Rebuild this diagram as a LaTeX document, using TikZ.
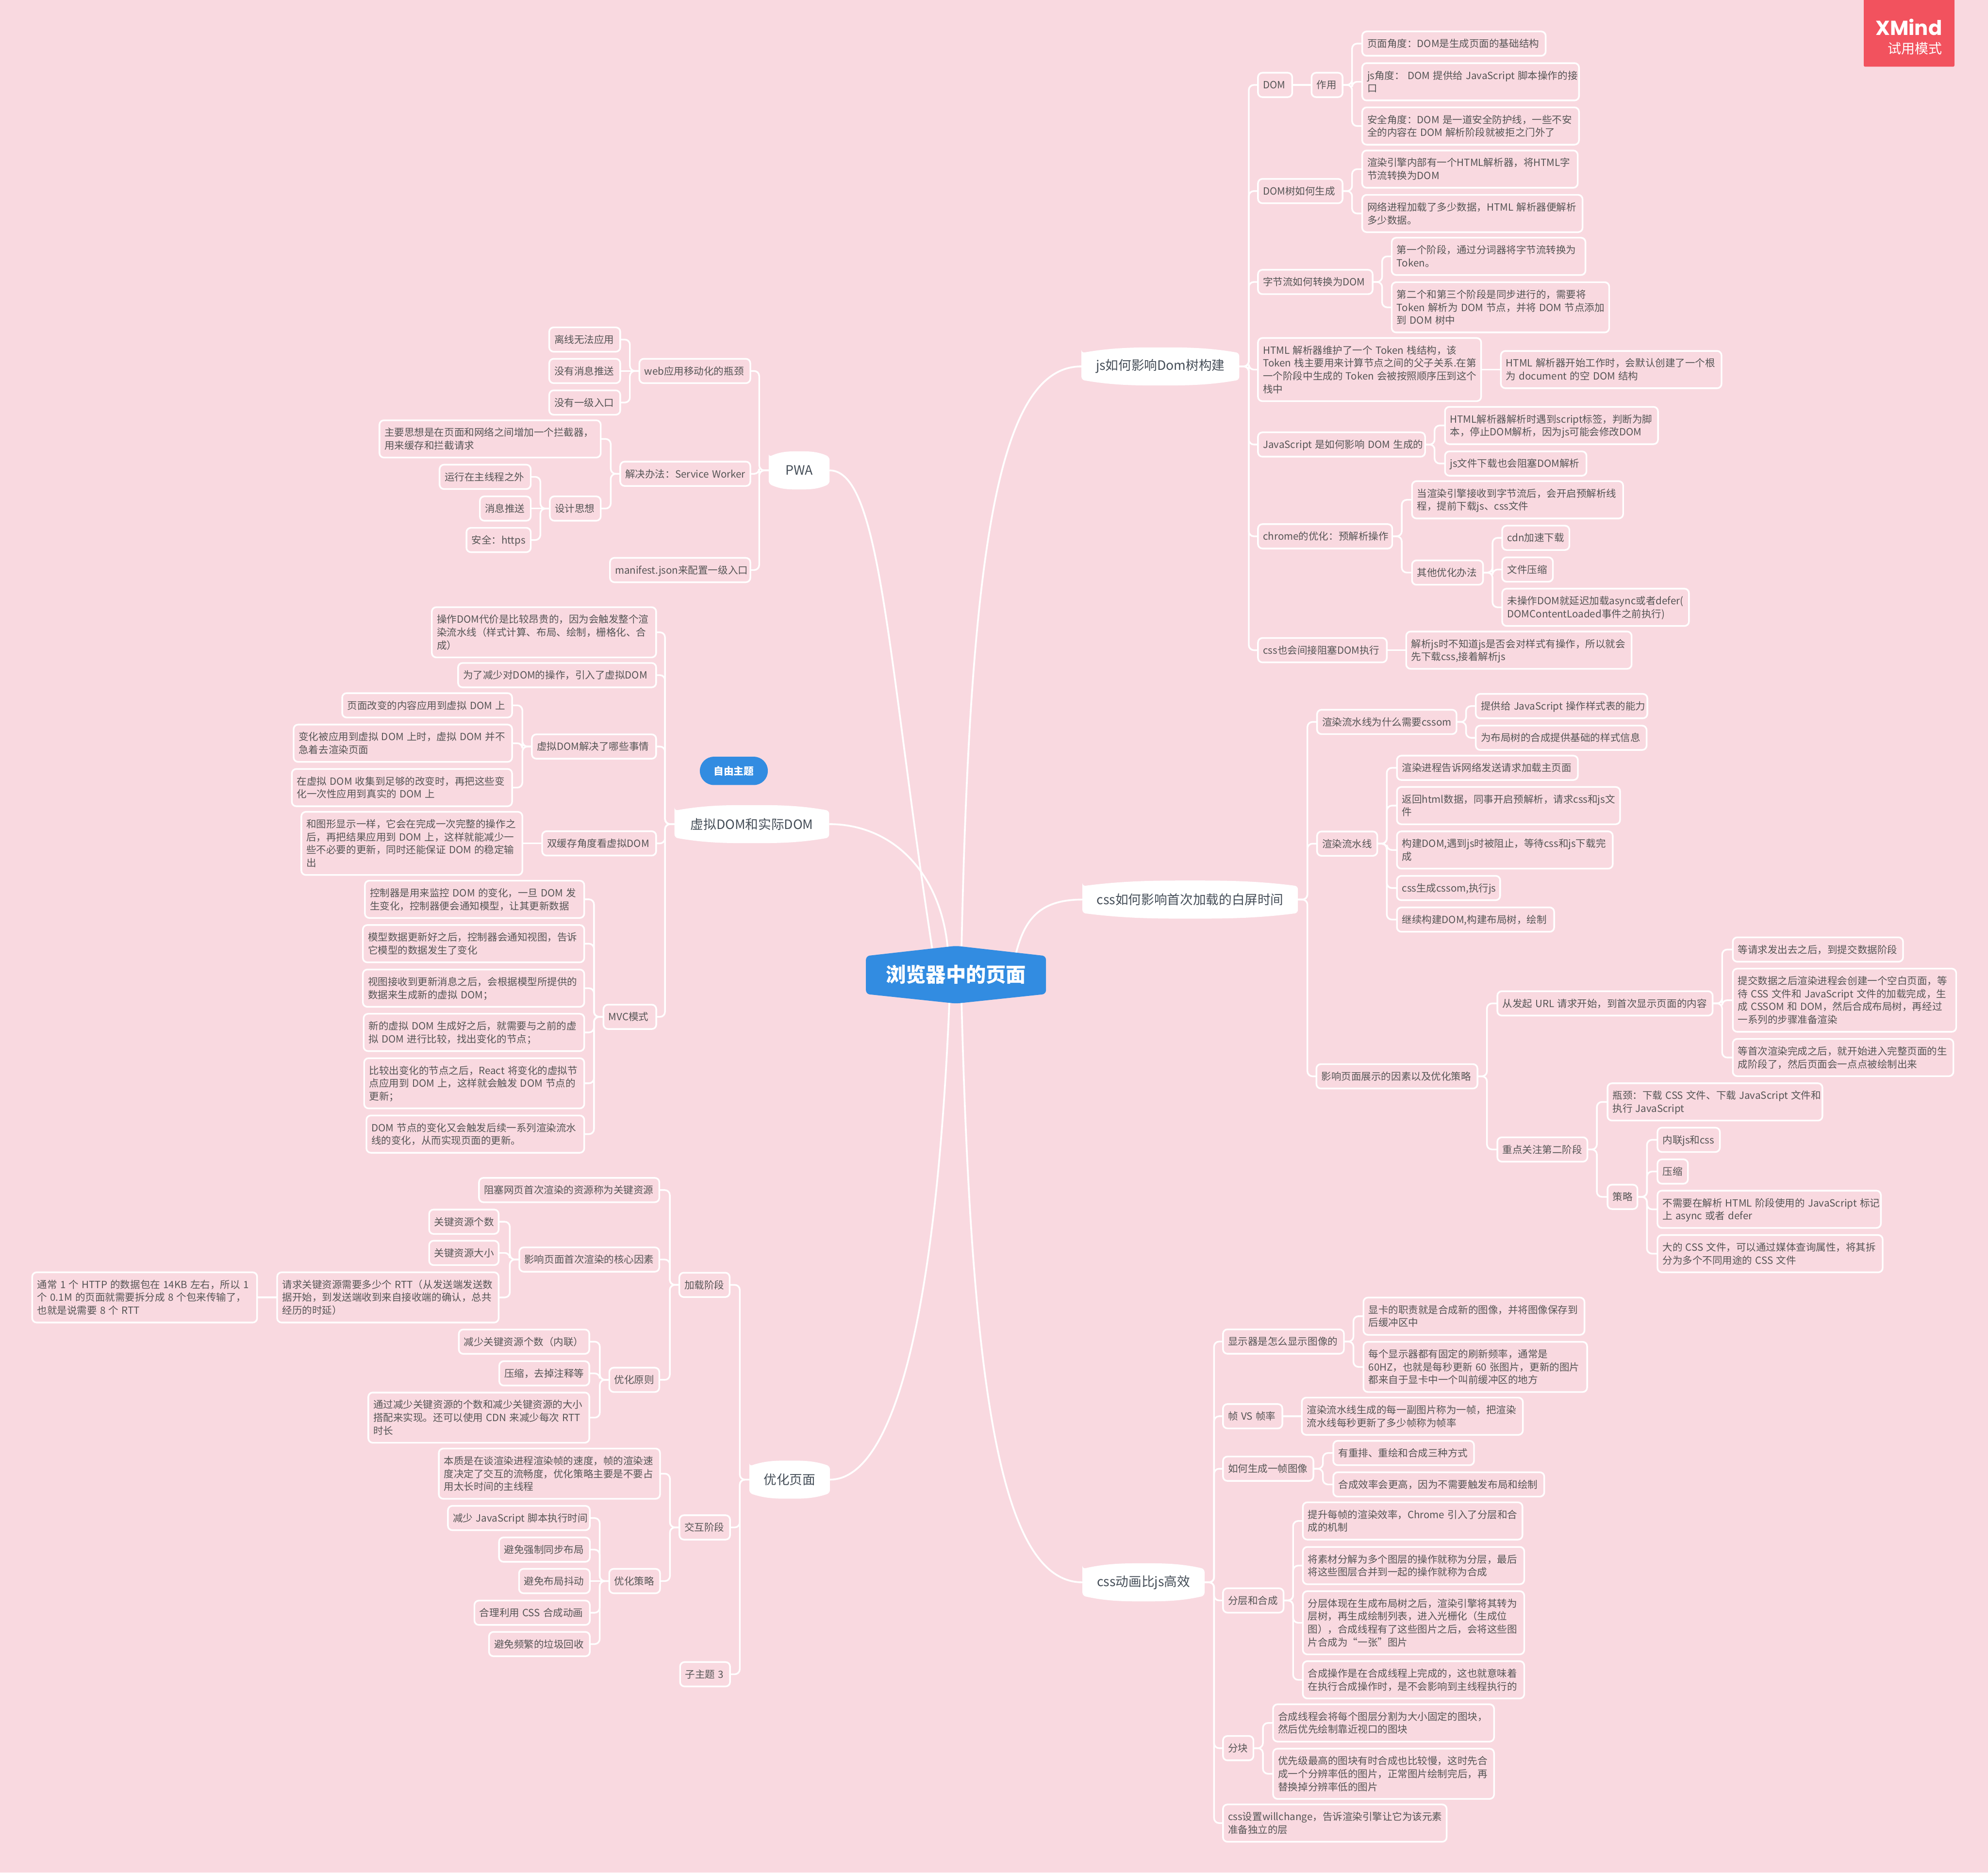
\documentclass[tikz,border=0pt]{standalone}
\usepackage{fontspec}
\setmainfont{Noto Sans CJK SC}
\newfontfamily\badgefont{Poppins}
\definecolor{pagepink}{HTML}{F9D9E0}
\definecolor{topicblue}{HTML}{328CE1}
\definecolor{badgered}{HTML}{F2525E}
\definecolor{subgray}{HTML}{555555}
\definecolor{mainslate}{HTML}{454E58}
\newcommand{\boxstrut}{\rule[-2.1pt]{0pt}{10.2pt}}
\pgfdeclarelayer{links}
\pgfsetlayers{links,main}
\tikzset{
  box/.style={draw=white,line width=1.3pt,rounded corners=3.5pt,text=subgray,inner xsep=4pt,inner ysep=4.5pt,outer sep=0pt,align=left,
    font=\fontsize{7.86}{10.2}\selectfont,
    execute at begin node={\rightskip=-60pt plus 1fil\spaceskip=2.4pt\boxstrut},execute at end node=\boxstrut},
  maintopic/.style={text=mainslate,inner sep=0pt,outer sep=0pt,font=\fontsize{10.2}{13}\selectfont},
  link/.style={draw=white,line width=1.3pt,rounded corners=4pt},
  mainlink/.style={draw=white,line width=1.4pt,shorten >=-7pt},
}
\begin{document}
\begin{tikzpicture}[x=1pt,y=-1pt]
\useasboundingbox (0,0) rectangle (1568,1477);
\begin{pgfonlayer}{links}
\fill[pagepink] (0,0) rectangle (1568,1477);
\end{pgfonlayer}
\fill[topicblue,rounded corners=3pt] (683,754) -- (754,746) -- (825,754) -- (825,784) -- (754,791.5) -- (683,784) -- cycle;
\node[inner sep=0pt,outer sep=0pt,minimum width=142pt,minimum height=45.5pt,text=white,font=\fontsize{15.8}{18}\selectfont\bfseries](root) at(754,768.75){浏览器中的页面};
\foreach \nm/\x/\y/\w/\t in {
  js/915.2/289/124.5/{js如何影响Dom树构建},
  firstpaint/938.7/709.5/170/{css如何影响首次加载的白屏时间},
  cssanim/901.9/1248/96.3/{css动画比js高效},
  pwa/630.3/371/48/{PWA},
  vdom/593/650/122/{虚拟DOM和实际DOM},
  opt/622.8/1167/63.6/{优化页面}
}{
  \fill[white,rounded corners=2.5pt] ({\x-\w/2},{\y-10.6}) -- ({\x-\w/2},{\y+10.6})
    .. controls ({\x-.3*\w},{\y+15}) and ({\x-.15*\w},{\y+15}) .. ({\x},{\y+15})
    .. controls ({\x+.15*\w},{\y+15}) and ({\x+.3*\w},{\y+15}) .. ({\x+\w/2},{\y+10.6})
    -- ({\x+\w/2},{\y-10.6})
    .. controls ({\x+.3*\w},{\y-15}) and ({\x+.15*\w},{\y-15}) .. ({\x},{\y-15})
    .. controls ({\x-.15*\w},{\y-15}) and ({\x-.3*\w},{\y-15}) .. cycle;
  \node[maintopic,minimum width=\w pt,minimum height=30pt](\nm) at(\x,\y){\t};
}
\foreach \nm/\x/\y/\w/\n/\t in {
  dom/992.2/67/27/1/{DOM},
  domuse/1034.5/67/24.4/1/{作用},
  pageview/1074.4/34.4/144.7/1/{页面角度：DOM是生成页面的基础结构},
  jsview/1074.4/64.5/171/2/{js角度： DOM 提供给 JavaScript 脚本操作的接\\口},
  safeview/1074.4/99.4/171/2/{安全角度：DOM 是一道安全防护线，一些不安\\全的内容在 DOM 解析阶段就被拒之门外了},
  domtree/992.2/150.7/66.7/1/{DOM树如何生成},
  htmlparser/1074.4/133.4/170/2/{渲染引擎内部有一个HTML解析器，将HTML字\\节流转换为DOM},
  netload/1074.4/168.4/173.8/2/{网络进程加载了多少数据，HTML 解析器便解析\\多少数据。},
  bytes/992.2/222.4/90.4/1/{字节流如何转换为DOM},
  stageone/1097.7/202.2/152.8/2/{第一个阶段，通过分词器将字节流转换为\\Token。},
  stagetwo/1097.7/242.4/171.5/3/{第二个和第三个阶段是同步进行的，需要将\\Token 解析为 DOM 节点，并将 DOM 节点添加\\到 DOM 树中},
  tokens/992.2/291.5/176/4/{HTML 解析器维护了一个 Token 栈结构，该\\Token 栈主要用来计算节点之间的父子关系.在第\\一个阶段中生成的 Token 会被按照顺序压到这个\\栈中},
  rootdoc/1183.8/291.5/174/2/{HTML 解析器开始工作时，会默认创建了一个根\\为 document 的空 DOM 结构},
  jsaffect/992.2/350.6/131.8/1/{JavaScript 是如何影响 DOM 生成的},
  scripttag/1139.7/335.6/168/2/{HTML解析器解析时遇到script标签，判断为脚\\本，停止DOM解析，因为js可能会修改DOM},
  jsload/1139.7/365.6/111.6/1/{js文件下载也会阻塞DOM解析},
  preparse/992.2/423/105.9/1/{chrome的优化：预解析操作},
  preload/1113.7/394.2/166.5/2/{当渲染引擎接收到字节流后，会开启预解析线\\程，提前下载js、css文件},
  otheropt/1113.7/451.6/56/1/{其他优化办法},
  cdn/1184.8/424.2/53/1/{cdn加速下载},
  compress/1184.8/449.2/40/1/{文件压缩},
  deferjs/1184.8/479/147.3/2/{未操作DOM就延迟加载async或者defer(\\DOMContentLoaded事件之前执行)},
  cssblock/992.2/512.8/101.6/1/{css也会间接阻塞DOM执行},
  cssjs/1109.1/512.8/177.8/2/{解析js时不知道js是否会对样式有操作，所以就会\\先下载css,接着解析js},
  whycssom/1038.8/569.4/110/1/{渲染流水线为什么需要cssom},
  jsstyle/1164/556.9/135.3/1/{提供给 JavaScript 操作样式表的能力},
  layoutstyle/1164/581.9/134.7/1/{为布局树的合成提供基础的样式信息},
  pipeline/1038.8/665.4/47.5/1/{渲染流水线},
  pipea/1101.8/605.6/142.7/1/{渲染进程告诉网络发送请求加载主页面},
  pipeb/1101.8/635.4/176/2/{返回html数据，同事开启预解析，请求css和js文\\件},
  pipec/1101.8/670.4/170.2/2/{构建DOM,遇到js时被阻止，等待css和js下载完\\成},
  piped/1101.8/700.4/81.4/1/{css生成cssom,执行js},
  pipee/1101.8/725.3/124/1/{继续构建DOM,构建布局树，绘制},
  factors/1038.3/848.9/127/1/{影响页面展示的因素以及优化策略},
  fromurl/1181/791.4/169.8/1/{从发起 URL 请求开始，到首次显示页面的内容},
  urla/1366.7/748.9/134.3/1/{等请求发出去之后，到提交数据阶段},
  urlb/1366.7/788.9/176.2/4/{提交数据之后渲染进程会创建一个空白页面，等\\待 CSS 文件和 JavaScript 文件的加载完成，生\\成 CSSOM 和 DOM，然后合成布局树，再经过\\一系列的步骤准备渲染},
  urlc/1366.7/834.1/174/2/{等首次渲染完成之后，就开始进入完整页面的生\\成阶段了，然后页面会一点点被绘制出来},
  stagesec/1181/906.6/71/1/{重点关注第二阶段},
  bottleneck/1267.9/869.1/169.5/2/{瓶颈：下载 CSS 文件、下载 JavaScript 文件和\\执行 JavaScript},
  strategy/1267.9/944/23.6/1/{策略},
  inlinejs/1307.3/899/49.2/1/{内联js和css},
  minify/1307.3/924/24/1/{压缩},
  asyncjs/1307.3/953.8/176.2/2/{不需要在解析 HTML 阶段使用的 JavaScript 标记\\上 async 或者 defer},
  mediacss/1307.3/988.8/177.6/2/{大的 CSS 文件，可以通过媒体查询属性，将其拆\\分为多个不同用途的 CSS 文件},
  display/964.6/1058.1/95.4/1/{显示器是怎么显示图像的},
  gpu/1075.4/1038.1/174.3/2/{显卡的职责就是合成新的图像，并将图像保存到\\后缓冲区中},
  refresh/1075.4/1078.1/176.4/3/{每个显示器都有固定的刷新频率，通常是\\60HZ，也就是每秒更新 60 张图片，更新的图片\\都来自于显卡中一个叫前缓冲区的地方},
  framerate/964.6/1117/46.8/1/{帧 VS 帧率},
  framedef/1026.8/1117/174.3/2/{渲染流水线生成的每一副图片称为一帧，把渲染\\流水线每秒更新了多少帧称为帧率},
  makeframe/964.6/1158.4/71.3/1/{如何生成一帧图像},
  threeways/1051.6/1146/111/1/{有重排、重绘和合成三种方式},
  compose/1051.6/1170.8/166.4/1/{合成效率会更高，因为不需要触发布局和绘制},
  layers/964.6/1262.3/47.8/1/{分层和合成},
  layera/1027.6/1199.6/173.2/2/{提升每帧的渲染效率，Chrome 引入了分层和合\\成的机制},
  layerb/1027.6/1234.8/174.6/2/{将素材分解为多个图层的操作就称为分层，最后\\将这些图层合并到一起的操作就称为合成},
  layerc/1027.6/1279.9/174.6/4/{分层体现在生成布局树之后，渲染引擎将其转为\\层树，再生成绘制列表，进入光栅化（生成位\\图），合成线程有了这些图片之后，会将这些图\\片合成为“一张”图片},
  layerd/1027.6/1324.9/174.6/2/{合成操作是在合成线程上完成的，这也就意味着\\在执行合成操作时，是不会影响到主线程执行的},
  tiles/964.6/1378.8/24/1/{分块},
  tilea/1004.1/1358.9/174.3/2/{合成线程会将每个图层分割为大小固定的图块，\\然后优先绘制靠近视口的图块},
  tileb/1004.1/1399/174.3/3/{优先级最高的图块有时合成也比较慢，这时先合\\成一个分辨率低的图片，正常图片绘制完后，再\\替换掉分辨率低的图片},
  willchange/964.6/1437.9/176.4/2/{css设置willchange，告诉渲染引擎让它为该元素\\准备独立的层}
}
\node at(\x,\y)[box,anchor=west,text width=\w pt-8pt,minimum height={9+10.2*\n}](\nm){\t};
\foreach \nm/\x/\y/\w/\n/\t in {
  web/591.8/292.6/87.5/1/{web应用移动化的瓶颈},
  offline/489.2/267.8/56/1/{离线无法应用},
  nopush/489.2/292.6/56/1/{没有消息推送},
  noentry/489.2/317.5/56/1/{没有一级入口},
  solve/591.8/373.7/102.6/1/{解决办法：Service Worker},
  mainidea/473.8/346.2/174.5/2/{主要思想是在页面和网络之间增加一个拦截器，\\用来缓存和拦截请求},
  design/473.8/401.1/40.1/1/{设计思想},
  outmain/418.6/376.1/71.9/1/{运行在主线程之外},
  push/418.6/401.1/40.1/1/{消息推送},
  https/418.6/425.9/50.7/1/{安全：https},
  manifest/591.8/449.6/110.7/1/{manifest.json来配置一级入口},
  domcost/517.5/498.7/176.9/3/{操作DOM代价是比较昂贵的，因为会触发整个渲\\染流水线（样式计算、布局、绘制，栅格化、合\\成）},
  reduce/517.5/532.5/156.2/1/{为了减少对DOM的操作，引入了虚拟DOM},
  solved/517.5/588.8/98/1/{虚拟DOM解决了哪些事情},
  solveda/403.9/556.3/134/1/{页面改变的内容应用到虚拟 DOM 上},
  solvedb/403.9/586.2/172.3/2/{变化被应用到虚拟 DOM 上时，虚拟 DOM 并不\\急着去渲染页面},
  solvedc/403.9/621.2/173.7/2/{在虚拟 DOM 收集到足够的改变时，再把这些变\\化一次性应用到真实的 DOM 上},
  dblbuf/517.5/665.2/89.9/1/{双缓存角度看虚拟DOM},
  graphic/412/665.2/174.3/4/{和图形显示一样，它会在完成一次完整的操作之\\后，再把结果应用到 DOM 上，这样就能减少一\\些不必要的更新，同时还能保证 DOM 的稳定输\\出},
  mvc/517.6/802/41.6/1/{MVC模式},
  mvca/460.8/709.3/173/2/{控制器是用来监控 DOM 的变化，一旦 DOM 发\\生变化，控制器便会通知模型，让其更新数据},
  mvcb/460.8/744.3/174.6/2/{模型数据更新好之后，控制器会通知视图，告诉\\它模型的数据发生了变化},
  mvcc/460.8/779.4/174.6/2/{视图接收到更新消息之后，会根据模型所提供的\\数据来生成新的虚拟 DOM；},
  mvcd/460.8/814.3/174/2/{新的虚拟 DOM 生成好之后，就需要与之前的虚\\拟 DOM 进行比较，找出变化的节点；},
  mvce/460.8/854.4/173.6/3/{比较出变化的节点之后，React 将变化的虚拟节\\点应用到 DOM 上，这样就会触发 DOM 节点的\\更新；},
  mvcf/460.8/894.5/171.8/2/{DOM 节点的变化又会触发后续一系列渲染流水\\线的变化，从而实现页面的更新。},
  loadstage/575.5/1013.4/39.7/1/{加载阶段},
  critical/520/938.6/142.2/1/{阻塞网页首次渲染的资源称为关键资源},
  coreinfl/520/993.4/110.4/1/{影响页面首次渲染的核心因素},
  rescount/393.3/963.6/54.8/1/{关键资源个数},
  ressize/393.3/988.2/54.8/1/{关键资源大小},
  rtt/393.3/1023.3/174.7/3/{请求关键资源需要多少个 RTT（从发送端发送数\\据开始，到发送端收到来自接收端的确认，总共\\经历的时延）},
  rttnote/202.8/1023.3/177.4/3/{通常 1 个 HTTP 的数据包在 14KB 左右，所以 1\\个 0.1M 的页面就需要拆分成 8 个包来传输了，\\也就是说需要 8 个 RTT},
  principle/520/1088.3/39.4/1/{优化原则},
  lessres/464.8/1058.2/102.9/1/{减少关键资源个数（内联）},
  shrink/464.8/1083.2/71/1/{压缩，去掉注释等},
  combine/464.8/1118.1/174.3/3/{通过减少关键资源的个数和减少关键资源的大小\\搭配来实现。还可以使用 CDN 来减少每次 RTT\\时长},
  interact/575.8/1204.7/39.9/1/{交互阶段},
  essence/520.6/1162.3/174.5/3/{本质是在谈渲染进程渲染帧的速度，帧的渲染速\\度决定了交互的流畅度，优化策略主要是不要占\\用太长时间的主线程},
  optplan/520.6/1247/40.1/1/{优化策略},
  plana/465.2/1197.3/111.9/1/{减少 JavaScript 脚本执行时间},
  planb/465.2/1222.2/71.6/1/{避免强制同步布局},
  planc/465.2/1247/55.8/1/{避免布局抖动},
  pland/465.2/1272/91/1/{合理利用 CSS 合成动画},
  plane/465.2/1296.7/79.5/1/{避免频繁的垃圾回收},
  subthree/575.8/1320.5/39.4/1/{子主题 3}
}
\node at(\x,\y)[box,anchor=east,text width=\w pt-8pt,minimum height={9+10.2*\n}](\nm){\t};
\node[fill=topicblue,rounded corners=11pt,outer sep=0pt,minimum width=53.6pt,minimum height=22.3pt,text=white,font=\fontsize{7.9}{10}\selectfont\bfseries](free) at(578.8,608){自由主题};
\fill[badgered,rounded corners=1pt] (1470,-3) rectangle (1541.5,52.6);
\node[anchor=east,inner sep=0pt,text=white,font=\badgefont\fontsize{16}{18}\selectfont\bfseries](brand) at(1532,21.6){XMind};
\node[anchor=east,inner sep=0pt,text=white,font=\fontsize{10.7}{12}\selectfont](trial) at(1532,38.2){试用模式};
\begin{pgfonlayer}{links}
\draw[mainlink] (js.west) .. controls (790,289) and (765,420) .. (root.79);
\draw[mainlink] (firstpaint.west) .. controls (820,709.5) and (808,725) .. (root.25);
\draw[mainlink] (cssanim.west) .. controls (790,1248) and (766,1100) .. (root.-79);
\draw[mainlink] (pwa.east) .. controls (695,371) and (700,520) .. (root.130);
\draw[mainlink] (vdom.east) .. controls (705,650) and (744,690) .. (root.106);
\draw[mainlink] (opt.east) .. controls (700,1167) and (738,1060) .. (root.-103);
\foreach \a/\b in {
  dom/domuse,tokens/rootdoc,cssblock/cssjs,framerate/framedef}
\draw[link] (\a.east) -- (\b.west);
\foreach \a/\b in {
  dblbuf/graphic,rtt/rttnote,web/nopush,design/push,optplan/planc}
\draw[link] (\a.west) -- (\b.east);
\foreach \a/\b in {
  js/dom,js/domtree,js/bytes,js/tokens,js/jsaffect,js/preparse,js/cssblock,
  domuse/pageview,domuse/jsview,domuse/safeview,
  domtree/htmlparser,domtree/netload,bytes/stageone,bytes/stagetwo,
  jsaffect/scripttag,jsaffect/jsload,preparse/preload,preparse/otheropt,
  otheropt/cdn,otheropt/compress,otheropt/deferjs,
  firstpaint/whycssom,firstpaint/pipeline,firstpaint/factors,
  whycssom/jsstyle,whycssom/layoutstyle,
  pipeline/pipea,pipeline/pipeb,pipeline/pipec,pipeline/piped,pipeline/pipee,
  factors/fromurl,factors/stagesec,fromurl/urla,fromurl/urlb,fromurl/urlc,
  stagesec/bottleneck,stagesec/strategy,
  strategy/inlinejs,strategy/minify,strategy/asyncjs,strategy/mediacss,
  cssanim/display,cssanim/framerate,cssanim/makeframe,cssanim/layers,cssanim/tiles,cssanim/willchange,
  display/gpu,display/refresh,makeframe/threeways,makeframe/compose,
  layers/layera,layers/layerb,layers/layerc,layers/layerd,tiles/tilea,tiles/tileb}
\draw[link] (\a.east) -- ++(7.5,0) |- (\b.west);
\foreach \a/\b in {
  pwa/web,pwa/solve,pwa/manifest,web/offline,web/noentry,
  solve/mainidea,solve/design,design/outmain,design/https,
  vdom/domcost,vdom/reduce,vdom/solved,vdom/dblbuf,vdom/mvc,
  solved/solveda,solved/solvedb,solved/solvedc,
  mvc/mvca,mvc/mvcb,mvc/mvcc,mvc/mvcd,mvc/mvce,mvc/mvcf,
  opt/loadstage,opt/interact,opt/subthree,
  loadstage/critical,loadstage/coreinfl,loadstage/principle,
  coreinfl/rescount,coreinfl/ressize,coreinfl/rtt,
  principle/lessres,principle/shrink,principle/combine,
  interact/essence,interact/optplan,
  optplan/plana,optplan/planb,optplan/pland,optplan/plane}
\draw[link] (\a.west) -- ++(-7.5,0) |- (\b.east);
\end{pgfonlayer}
\end{tikzpicture}
\end{document}
